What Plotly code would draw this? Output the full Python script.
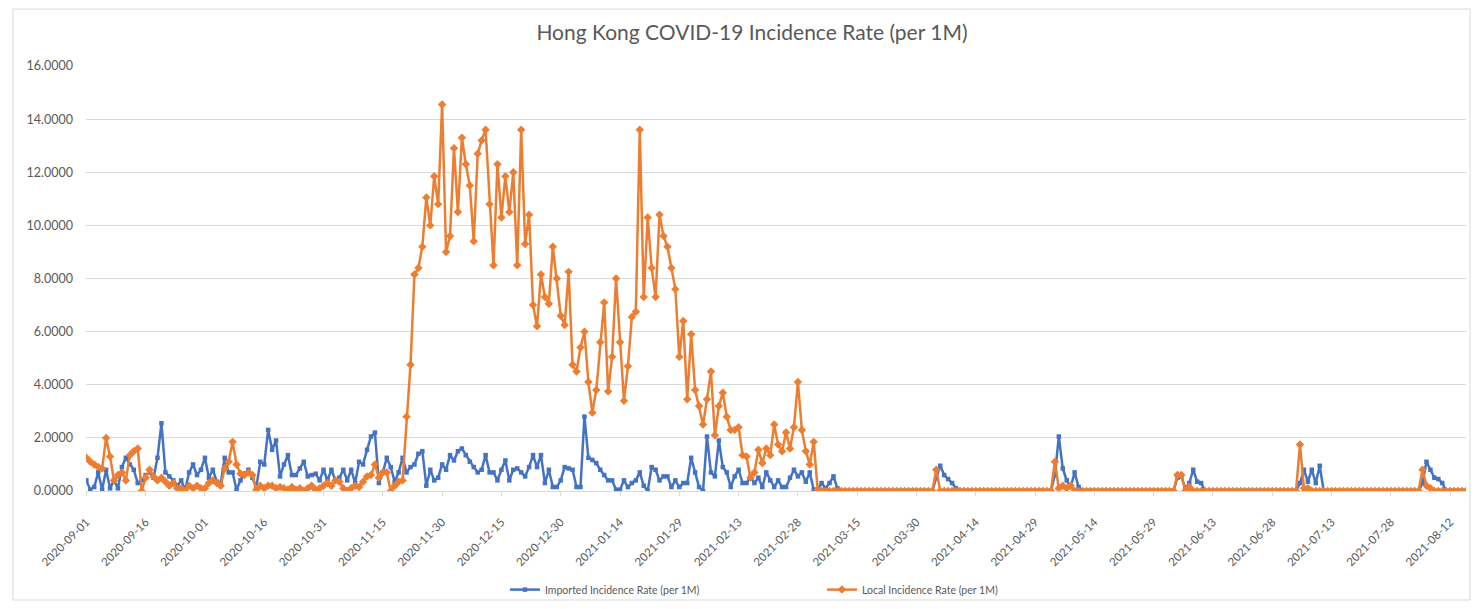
import pandas as pd
import plotly.graph_objects as go

# Local incidence rate (per 1M), daily from 2020-09-01
local_rate = [
    1.25, 1.1, 1.0, 0.9, 0.85, 2.0, 1.3, 0.4, 0.6, 0.7,
    0.4, 1.35, 1.5, 1.6, 0.0, 0.5, 0.8, 0.55, 0.4, 0.5,
    0.35, 0.2, 0.3, 0.1, 0.1, 0.0, 0.2, 0.1, 0.2, 0.1,
    0.1, 0.3, 0.4, 0.3, 0.2, 0.85, 1.1, 1.85, 1.0, 0.65,
    0.6, 0.7, 0.6, 0.05, 0.2, 0.1, 0.2, 0.2, 0.1, 0.15,
    0.1, 0.05, 0.15, 0.05, 0.1, 0.0, 0.1, 0.2, 0.05, 0.1,
    0.2, 0.3, 0.2, 0.4, 0.35, 0.1, 0.0, 0.1, 0.2, 0.15,
    0.35, 0.55, 0.6, 1.0, 0.5, 0.7, 0.7, 0.0, 0.2, 0.35,
    0.4, 2.8, 4.75, 8.15, 8.4, 9.2, 11.05, 10.0, 11.85, 10.8,
    14.55, 9.0, 9.6, 12.9, 10.5, 13.3, 12.3, 11.5, 9.4, 12.7,
    13.2, 13.6, 10.8, 8.5, 12.3, 10.3, 11.85, 10.5, 12.0, 8.5,
    13.6, 9.3, 10.4, 7.0, 6.2, 8.15, 7.3, 7.05, 9.2, 8.0,
    6.6, 6.25, 8.25, 4.75, 4.5, 5.4, 6.0, 4.1, 2.95, 3.8,
    5.6, 7.1, 3.75, 5.05, 8.0, 5.6, 3.4, 4.7, 6.55, 6.75,
    13.6, 7.3, 10.3, 8.4, 7.3, 10.4, 9.6, 9.2, 8.4, 7.6,
    5.05, 6.4, 3.45, 5.9, 3.8, 3.2, 2.5, 3.45, 4.5, 2.1,
    3.2, 3.7, 2.8, 2.3, 2.3, 2.4, 1.35, 1.3, 0.5, 0.7,
    1.55, 1.05, 1.6, 1.35, 2.5, 1.75, 1.5, 2.2, 1.6, 2.4,
    4.1, 2.3, 1.5, 1.0, 1.85, 0.05, 0, 0, 0, 0,
    0, 0, 0, 0, 0, 0, 0, 0, 0, 0,
    0, 0, 0, 0, 0, 0, 0, 0, 0, 0,
    0, 0, 0, 0, 0, 0.8, 0, 0, 0, 0,
    0, 0, 0, 0, 0, 0, 0, 0, 0, 0,
    0, 0, 0, 0, 0, 0, 0, 0, 0, 0,
    0, 0, 0, 0, 0, 1.1, 0.1, 0.2, 0.1, 0.2,
    0, 0, 0, 0, 0, 0, 0, 0, 0, 0,
    0, 0, 0, 0, 0, 0, 0, 0, 0, 0,
    0, 0, 0, 0, 0, 0, 0.6, 0.6, 0, 0.15,
    0, 0, 0, 0, 0, 0, 0, 0, 0, 0,
    0, 0, 0, 0, 0, 0, 0, 0, 0, 0,
    0, 0, 0, 0, 0, 0, 0, 1.75, 0.1, 0.1,
    0, 0, 0, 0, 0, 0, 0, 0, 0, 0,
    0, 0, 0, 0, 0, 0, 0, 0, 0, 0,
    0, 0, 0, 0, 0, 0, 0, 0, 0.8, 0.2,
    0.1, 0, 0, 0, 0, 0, 0, 0, 0, 0,
]

# Imported incidence rate (per 1M), daily from 2020-09-01
imported_rate = [
    0.4, 0.05, 0.15, 0.7, 0.05, 0.8, 0.1, 0.4, 0.1, 0.9,
    1.25, 1.0, 0.8, 0.3, 0.4, 0.6, 0.7, 0.5, 1.25, 2.55,
    0.7, 0.55, 0.4, 0.2, 0.4, 0.05, 0.7, 1.0, 0.6, 0.8,
    1.25, 0.5, 0.8, 0.35, 0.3, 1.25, 0.7, 0.7, 0.05, 0.4,
    0.65, 0.8, 0.5, 0.15, 1.1, 1.0, 2.3, 1.55, 1.9, 0.55,
    1.0, 1.35, 0.6, 0.6, 0.85, 1.1, 0.55, 0.6, 0.65, 0.4,
    0.8, 0.4, 0.8, 0.4, 0.5, 0.8, 0.4, 0.8, 0.3, 1.1,
    1.0, 1.55, 2.05, 2.2, 0.3, 0.7, 1.25, 0.9, 0.35, 0.7,
    1.25, 0.7, 0.9, 1.0, 1.4, 1.5, 0.2, 0.8, 0.4, 0.5,
    1.0, 0.8, 1.35, 1.15, 1.5, 1.6, 1.35, 1.1, 0.9, 0.7,
    0.8, 1.35, 0.7, 0.7, 0.4, 0.8, 1.15, 0.4, 0.8, 0.85,
    0.7, 0.55, 0.9, 1.35, 0.9, 1.35, 0.3, 0.8, 0.15, 0.15,
    0.4, 0.9, 0.85, 0.8, 0.15, 0.15, 2.8, 1.25, 1.17, 1.05,
    0.8, 0.6, 0.4, 0.4, 0.05, 0.05, 0.4, 0.15, 0.3, 0.4,
    0.7, 0.2, 0.0, 0.9, 0.8, 0.4, 0.55, 0.55, 0.15, 0.4,
    0.15, 0.3, 0.3, 1.25, 0.7, 0.15, 0.0, 2.05, 0.7, 0.55,
    1.9, 0.9, 0.7, 0.15, 0.55, 0.8, 0.3, 0.3, 0.55, 0.3,
    0.5, 0.15, 0.7, 0.4, 0.15, 0.4, 0.15, 0.15, 0.5, 0.8,
    0.55, 0.7, 0.35, 0.7, 0.05, 0.05, 0.3, 0.1, 0.3, 0.55,
    0.1, 0, 0, 0, 0, 0, 0, 0, 0, 0,
    0, 0, 0, 0, 0, 0, 0, 0, 0, 0,
    0, 0, 0, 0, 0, 0.5, 0.95, 0.6, 0.45, 0.3,
    0.1, 0, 0, 0, 0, 0, 0, 0, 0, 0,
    0, 0, 0, 0, 0, 0, 0, 0, 0, 0,
    0, 0, 0, 0, 0, 0.6, 2.05, 0.85, 0.4, 0.15,
    0.7, 0.15, 0, 0, 0, 0, 0, 0, 0, 0,
    0, 0, 0, 0, 0, 0, 0, 0, 0, 0,
    0, 0, 0, 0, 0, 0, 0.5, 0.55, 0.1, 0.3,
    0.8, 0.35, 0.3, 0, 0, 0, 0, 0, 0, 0,
    0, 0, 0, 0, 0, 0, 0, 0, 0, 0,
    0, 0, 0, 0, 0, 0, 0, 0.3, 0.8, 0.35,
    0.8, 0.3, 0.95, 0, 0, 0, 0, 0, 0, 0,
    0, 0, 0, 0, 0, 0, 0, 0, 0, 0,
    0, 0, 0, 0, 0, 0, 0, 0, 0.3, 1.1,
    0.8, 0.5, 0.45, 0.3, 0, 0, 0, 0, 0, 0,
]

assert len(local_rate) == len(imported_rate)

start_date = "2020-09-01"
dates = pd.date_range(start=start_date, periods=len(local_rate), freq="D")
tick_dates = pd.date_range(start=start_date, end="2021-08-12", freq="15D")
tick_labels = [d.strftime("%Y-%m-%d") for d in tick_dates]

title_text = "Hong Kong COVID-19 Incidence Rate (per 1M)"
name_imported = "Imported Incidence Rate (per 1M)"
name_local = "Local Incidence Rate (per 1M)"

BLUE = "#4472C4"
ORANGE = "#ED7D31"
TXT = "#595959"
GRID = "#D9D9D9"
FONT = "Lato, Carlito, 'Open Sans', sans-serif"

W, H = 1463, 593  # page has an 8px body margin

fig = go.Figure()
fig.add_trace(go.Scatter(
    x=dates, y=imported_rate, name=name_imported, mode="lines+markers",
    line=dict(color=BLUE, width=2.5),
    marker=dict(symbol="square", size=4.5, color=BLUE),
))
fig.add_trace(go.Scatter(
    x=dates, y=local_rate, name=name_local, mode="lines+markers",
    line=dict(color=ORANGE, width=2.5),
    marker=dict(symbol="diamond", size=6.5, color=ORANGE),
))

fig.update_layout(
    width=W, height=H,
    margin=dict(l=78, r=5, t=58, b=110, autoexpand=False),
    paper_bgcolor="white", plot_bgcolor="white",
    font=dict(family=FONT, color=TXT, size=11),
    title=dict(text=title_text, x=(752 - 8) / W, xref="container", xanchor="center",
               y=1 - 25 / H, yref="container", yanchor="middle",
               font=dict(size=21, color=TXT, family=FONT)),
    showlegend=True,
    legend=dict(orientation="h", x=0.3036, xanchor="left", y=-0.232, yanchor="middle",
                font=dict(size=10.5, color=TXT), itemwidth=30,
                bgcolor="rgba(0,0,0,0)",
                entrywidth=272, entrywidthmode="pixels", traceorder="normal"),
    hovermode=False,
)

fig.update_xaxes(
    type="date", automargin=False,
    range=[pd.Timestamp("2020-08-31 22:00"), pd.Timestamp("2021-08-16 00:00")],
    tickmode="array", tickvals=tick_dates, ticktext=tick_labels,
    tickangle=-45, tickfont=dict(size=11.5, color=TXT),
    showgrid=False, showline=True, linecolor=GRID, linewidth=1,
    ticks="outside", ticklen=4, tickcolor=GRID, zeroline=False,
    ticklabelstandoff=15,
)
fig.update_yaxes(
    automargin=False,
    range=[0, 16], dtick=2, tickformat=".4f",
    showgrid=True, gridcolor=GRID, gridwidth=1,
    zeroline=False, showline=False, ticks="",
    tickfont=dict(size=12.5, color=TXT), ticklabelstandoff=12,
)

# chart-area border (decoration)
fig.add_shape(type="rect", xref="paper", yref="paper",
              x0=-0.0529, x1=1.0029, y0=-0.2565, y1=1.134,
              line=dict(color=GRID, width=1), fillcolor="rgba(0,0,0,0)", layer="below")

fig.write_html("out.html")
